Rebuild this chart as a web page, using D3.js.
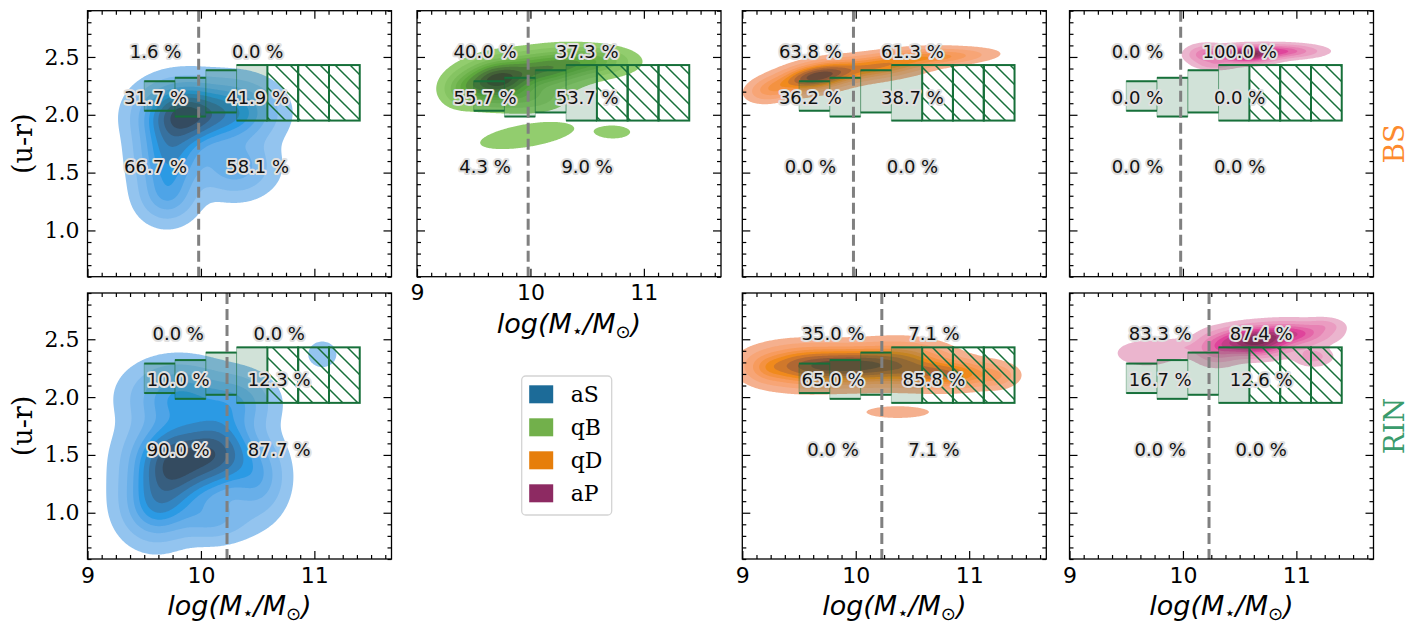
<!DOCTYPE html>
<html>
<head>
<meta charset="utf-8">
<script src="https://cdn.jsdelivr.net/npm/d3@7"></script>
<style>
  body { margin: 0; background: #fff; }
  svg { display: block; }
</style>
</head>
<body>
<svg width="1420" height="634"></svg>
<script>
// ---- data ----
const classes = ["aS", "qB", "qD", "aP"];
const classColors = ["#1c6b98", "#72b04b", "#e67e0b", "#8d2a62"];
// light / mid / dark shades of the filled kde levels for each class
const classRamps = [
  ["#93c4ef", "#2b9ae4", "#344b60"],
  ["#92cd6e", "#5ea83d", "#3a4c33"],
  ["#f5b08e", "#f08a1c", "#6c4a38"],
  ["#ebb5ce", "#df449b", "#7a2c54"],
];
const environments = ["BS", "RIN"];
const envColors = ["#fd8a2e", "#3a9b6c"];

const xTicks = [9, 10, 11];
const yTicks = [1.0, 1.5, 2.0, 2.5];

// green valley band, one box per mass bin
const gvEdges = [9.5, 9.771, 10.043, 10.314, 10.586, 10.857, 11.129, 11.4];
const gvTop = [2.29, 2.32, 2.385, 2.43, 2.43, 2.43, 2.43];
const gvBottom = [2.035, 1.985, 2.02, 1.95, 1.95, 1.95, 1.95];
const gvHatched = [0, 0, 0, 0, 1, 1, 1];

const massSplit = [9.98, 10.23]; // dashed line, per environment
const labelX = [[9.6, 10.5], [9.8, 10.69]];
const labelY = [2.55, 2.15, 1.55];

// panels
const panelClass = [0, 1, 2, 3, 0, 2, 3];
const panelEnv = [0, 0, 0, 0, 1, 1, 1];
const panelCol = [0, 1, 2, 3, 0, 2, 3];
const panelPct = [
  [[1.6, 0.0], [31.7, 41.9], [66.7, 58.1]],
  [[40.0, 37.3], [55.7, 53.7], [4.3, 9.0]],
  [[63.8, 61.3], [36.2, 38.7], [0.0, 0.0]],
  [[0.0, 100.0], [0.0, 0.0], [0.0, 0.0]],
  [[0.0, 0.0], [10.0, 12.3], [90.0, 87.7]],
  [[35.0, 7.1], [65.0, 85.8], [0.0, 7.1]],
  [[83.3, 87.4], [16.7, 12.6], [0.0, 0.0]],
];
// kde blobs: [x, y, sigmaX, sigmaY, weight, angleDeg]
const panelBlobs = [
  [[9.85, 2.0, 0.22, 0.16, 1.0, 0], [10.3, 2.02, 0.22, 0.16, 0.5, 0], [9.72, 1.65, 0.17, 0.2, 0.55, 0],
   [9.7, 1.3, 0.15, 0.14, 0.28, 0], [10.3, 1.55, 0.2, 0.15, 0.3, 0]],
  [[9.7, 2.3, 0.19, 0.1, 1.0, 8], [10.15, 2.4, 0.22, 0.09, 0.6, 5], [10.55, 2.46, 0.2, 0.07, 0.35, 0],
   [9.4, 2.22, 0.1, 0.08, 0.2, 10], [9.95, 2.15, 0.2, 0.07, 0.2, 0],
   [9.97, 1.82, 0.3, 0.07, 0.085, 9], [10.73, 1.85, 0.11, 0.04, 0.08, 0]],
  [[9.65, 2.33, 0.2, 0.065, 1.0, 10], [10.2, 2.42, 0.3, 0.06, 0.55, 8], [10.75, 2.5, 0.25, 0.04, 0.3, 3],
   [9.25, 2.22, 0.12, 0.06, 0.25, 10]],
  [[10.55, 2.52, 0.15, 0.04, 1.0, 0], [10.85, 2.55, 0.2, 0.035, 0.45, 0], [10.2, 2.52, 0.1, 0.05, 0.3, 0],
   [10.3, 2.43, 0.1, 0.025, 0.15, 0]],
  [[9.75, 1.42, 0.22, 0.22, 1.0, 0], [10.15, 1.52, 0.2, 0.2, 0.8, 0], [9.6, 1.05, 0.18, 0.18, 0.45, 0],
   [9.8, 2.0, 0.25, 0.17, 0.45, 0], [10.5, 1.3, 0.15, 0.2, 0.3, 0], [10.3, 1.95, 0.2, 0.15, 0.3, 0],
   [10.1, 0.95, 0.2, 0.12, 0.25, 0], [11.07, 2.37, 0.09, 0.08, 0.09, 0]],
  [[9.95, 2.27, 0.3, 0.09, 1.0, 0], [9.5, 2.27, 0.25, 0.1, 0.6, 0], [10.8, 2.2, 0.25, 0.07, 0.7, 0],
   [10.4, 2.3, 0.25, 0.1, 0.5, 0], [9.22, 2.25, 0.1, 0.07, 0.15, 0], [11.25, 2.18, 0.1, 0.06, 0.15, 0],
   [10.37, 1.87, 0.22, 0.04, 0.08, 0]],
  [[10.62, 2.48, 0.18, 0.07, 1.0, 0], [10.95, 2.55, 0.2, 0.06, 0.5, 0], [11.15, 2.35, 0.1, 0.05, 0.15, 0],
   [10.3, 2.42, 0.12, 0.08, 0.3, 0], [9.68, 2.38, 0.17, 0.07, 0.1, 0], [9.98, 2.43, 0.12, 0.05, 0.08, 0],
   [11.25, 2.62, 0.1, 0.04, 0.12, 0]],
];
const levelFrac = [0.03, 0.1, 0.2, 0.3, 0.4, 0.5, 0.62, 0.75, 0.88];

// ---- layout ----
const colLeft = [87.5, 417, 742.3, 1069.5];
const rowTop = [10.7, 293];
const pw = 304, ph = 266;
const xDom = [9, 11.68], yDom = [0.6, 2.9];
const gvColor = "#17703a";
const serif = "DejaVu Serif", sans = "DejaVu Sans";

const svg = d3.select("svg");
const defs = svg.append("defs");
defs.append("pattern")
  .attr("id", "hatch")
  .attr("patternUnits", "userSpaceOnUse")
  .attr("width", 15).attr("height", 15)
  .append("path")
  .attr("d", "M-1,-1 L16,16 M-1,14 L1,16 M14,-1 L16,1")
  .attr("stroke", gvColor).attr("stroke-width", 1.5);

const nx = 270, ny = 230;
const dx = (xDom[1] - xDom[0]) / nx, dy = (yDom[1] - yDom[0]) / ny;

function densityGrid(blobs) {
  const v = new Float64Array(nx * ny);
  for (let j = 0; j < ny; j++) {
    const y = yDom[1] - (j + 0.5) * dy;
    for (let i = 0; i < nx; i++) {
      const x = xDom[0] + (i + 0.5) * dx;
      let s = 0;
      for (const [cx, cy, sx, sy, w, a] of blobs) {
        const t = a * Math.PI / 180;
        const u = (x - cx) * Math.cos(t) + (y - cy) * Math.sin(t);
        const q = -(x - cx) * Math.sin(t) + (y - cy) * Math.cos(t);
        s += w * Math.exp(-0.5 * (u * u / (sx * sx) + q * q / (sy * sy)));
      }
      v[i + j * nx] = s;
    }
  }
  return v;
}

panelClass.forEach((ci, p) => {
  const env = panelEnv[p], col = panelCol[p];
  const x0 = colLeft[col], y0 = rowTop[env];
  const x = d3.scaleLinear(xDom, [x0, x0 + pw]);
  const y = d3.scaleLinear(yDom, [y0 + ph, y0]);
  const g = svg.append("g");

  defs.append("clipPath").attr("id", "clip" + p)
    .append("rect").attr("x", x0).attr("y", y0).attr("width", pw).attr("height", ph);

  // kde levels
  const vals = densityGrid(panelBlobs[p]);
  const vmax = d3.max(vals);
  const ramp = d3.piecewise(d3.interpolateHcl, classRamps[ci]);
  const proj = d3.geoTransform({
    point(gx, gy) { this.stream.point(x(xDom[0] + gx * dx), y(yDom[1] - gy * dy)); }
  });
  const path = d3.geoPath(proj);
  const contours = d3.contours().size([nx, ny]).thresholds(levelFrac.map(f => f * vmax))(vals);
  g.append("g").attr("clip-path", `url(#clip${p})`)
    .selectAll("path").data(contours).join("path")
    .attr("d", path)
    .attr("fill", (d, i) => ramp(i / (levelFrac.length - 1)));

  // green valley
  const bins = d3.range(gvTop.length);
  const gv = g.append("g");
  gv.selectAll("rect.fill").data(bins.filter(i => !gvHatched[i])).join("rect")
    .attr("x", i => x(gvEdges[i])).attr("width", i => x(gvEdges[i + 1]) - x(gvEdges[i]))
    .attr("y", i => y(gvTop[i])).attr("height", i => y(gvBottom[i]) - y(gvTop[i]))
    .attr("fill", gvColor).attr("fill-opacity", 0.2)
    .attr("stroke", gvColor).attr("stroke-opacity", 0.35).attr("stroke-width", 1);
  gv.selectAll("line.top").data(bins.filter(i => !gvHatched[i])).join("line")
    .attr("x1", i => x(gvEdges[i])).attr("x2", i => x(gvEdges[i + 1]))
    .attr("y1", i => y(gvTop[i])).attr("y2", i => y(gvTop[i]))
    .attr("stroke", gvColor).attr("stroke-width", 2);
  gv.selectAll("line.bot").data(bins.filter(i => !gvHatched[i])).join("line")
    .attr("x1", i => x(gvEdges[i])).attr("x2", i => x(gvEdges[i + 1]))
    .attr("y1", i => y(gvBottom[i])).attr("y2", i => y(gvBottom[i]))
    .attr("stroke", gvColor).attr("stroke-width", 2);
  gv.selectAll("rect.hatch").data(bins.filter(i => gvHatched[i])).join("rect")
    .attr("x", i => x(gvEdges[i])).attr("width", i => x(gvEdges[i + 1]) - x(gvEdges[i]))
    .attr("y", i => y(gvTop[i])).attr("height", i => y(gvBottom[i]) - y(gvTop[i]))
    .attr("fill", "url(#hatch)")
    .attr("stroke", gvColor).attr("stroke-width", 2);

  // mass split
  g.append("line")
    .attr("x1", x(massSplit[env])).attr("x2", x(massSplit[env]))
    .attr("y1", y0).attr("y2", y0 + ph)
    .attr("stroke", "#808080").attr("stroke-width", 3).attr("stroke-dasharray", "11,5");

  // percentages
  const cells = [];
  panelPct[p].forEach((row, r) => row.forEach((v, c) => cells.push({ v, r, c })));
  g.selectAll("text.pct").data(cells).join("text")
    .attr("x", d => x(labelX[env][d.c])).attr("y", d => y(labelY[d.r]))
    .attr("text-anchor", "middle").attr("dominant-baseline", "central")
    .attr("font-family", sans).attr("font-size", 18)
    .attr("fill", "#111").attr("stroke", "#e0e0e0").attr("stroke-width", 4)
    .attr("stroke-linejoin", "round").attr("paint-order", "stroke")
    .text(d => d.v.toFixed(1) + " %");

  // axes, ticks inward on all sides
  const xMinor = d3.range(9, 11.68, 0.125).filter(v => !xTicks.includes(v));
  const yMinor = d3.range(6, 30).map(v => v / 10).filter(v => !yTicks.includes(v));
  const showX = env === 1 || col === 1;
  const showY = col === 0;
  const ax = (gen, tr, labels, font) => {
    const a = g.append("g").attr("transform", tr).call(gen);
    a.select(".domain").remove();
    a.selectAll("line").attr("stroke", "#000").attr("stroke-width", 1.2);
    a.selectAll("text").attr("font-family", font || serif).attr("font-size", 22).attr("fill", "#000");
    if (!labels) a.selectAll("text").remove();
    return a;
  };
  ax(d3.axisBottom(x).tickValues(xTicks).tickFormat(d3.format("d")).tickSizeInner(-8).tickSizeOuter(0).tickPadding(8),
     `translate(0,${y0 + ph})`, showX, sans);
  ax(d3.axisBottom(x).tickValues(xMinor).tickSizeInner(-4).tickSizeOuter(0), `translate(0,${y0 + ph})`, false);
  ax(d3.axisTop(x).tickValues(xTicks).tickSizeInner(-8).tickSizeOuter(0), `translate(0,${y0})`, false);
  ax(d3.axisTop(x).tickValues(xMinor).tickSizeInner(-4).tickSizeOuter(0), `translate(0,${y0})`, false);
  ax(d3.axisLeft(y).tickValues(yTicks).tickFormat(d3.format(".1f")).tickSizeInner(-8).tickSizeOuter(0).tickPadding(8),
     `translate(${x0},0)`, showY);
  ax(d3.axisLeft(y).tickValues(yMinor).tickSizeInner(-4).tickSizeOuter(0), `translate(${x0},0)`, false);
  ax(d3.axisRight(y).tickValues(yTicks).tickSizeInner(-8).tickSizeOuter(0), `translate(${x0 + pw},0)`, false);
  ax(d3.axisRight(y).tickValues(yMinor).tickSizeInner(-4).tickSizeOuter(0), `translate(${x0 + pw},0)`, false);

  g.append("rect").attr("x", x0).attr("y", y0).attr("width", pw).attr("height", ph)
    .attr("fill", "none").attr("stroke", "#000").attr("stroke-width", 1.3);

  if (showX) {
    const t = g.append("text")
      .attr("x", x0 + pw / 2).attr("y", y0 + ph + 56)
      .attr("text-anchor", "middle").attr("font-family", sans).attr("font-size", 27);
    t.append("tspan").attr("font-style", "italic").text("log(M");
    t.append("tspan").attr("font-size", 18).attr("dy", 4).text("⋆");
    t.append("tspan").attr("font-style", "italic").attr("dy", -4).text("/M");
    t.append("tspan").attr("font-size", 18).attr("dy", 5).text("⊙");
    t.append("tspan").attr("font-style", "italic").attr("dy", -5).text(")");
  }
  if (showY) {
    g.append("text")
      .attr("transform", `translate(${x0 - 65},${y0 + ph / 2}) rotate(-90)`)
      .attr("text-anchor", "middle").attr("dominant-baseline", "central")
      .attr("font-family", serif).attr("font-size", 27).text("(u-r)");
  }
  if (col === 3) {
    g.append("text")
      .attr("transform", `translate(${x0 + pw + 21},${y0 + ph / 2}) rotate(-90)`)
      .attr("text-anchor", "middle").attr("dominant-baseline", "central")
      .attr("font-family", serif).attr("font-size", 28).attr("fill", envColors[env])
      .text(environments[env]);
  }
});

// legend
const leg = svg.append("g").attr("transform", "translate(521.7,376)");
leg.append("rect").attr("width", 90).attr("height", 139).attr("rx", 4)
  .attr("fill", "#fff").attr("stroke", "#d4d4d4").attr("stroke-width", 1.3);
const items = leg.selectAll("g.item").data(classes).join("g")
  .attr("transform", (d, i) => `translate(0,${18.3 + i * 33})`);
items.append("rect").attr("x", 7.5).attr("y", -9).attr("width", 24).attr("height", 18)
  .attr("fill", (d, i) => classColors[i]);
items.append("text").attr("x", 49).attr("dominant-baseline", "central")
  .attr("font-family", serif).attr("font-size", 22).text(d => d);
</script>
</body>
</html>
